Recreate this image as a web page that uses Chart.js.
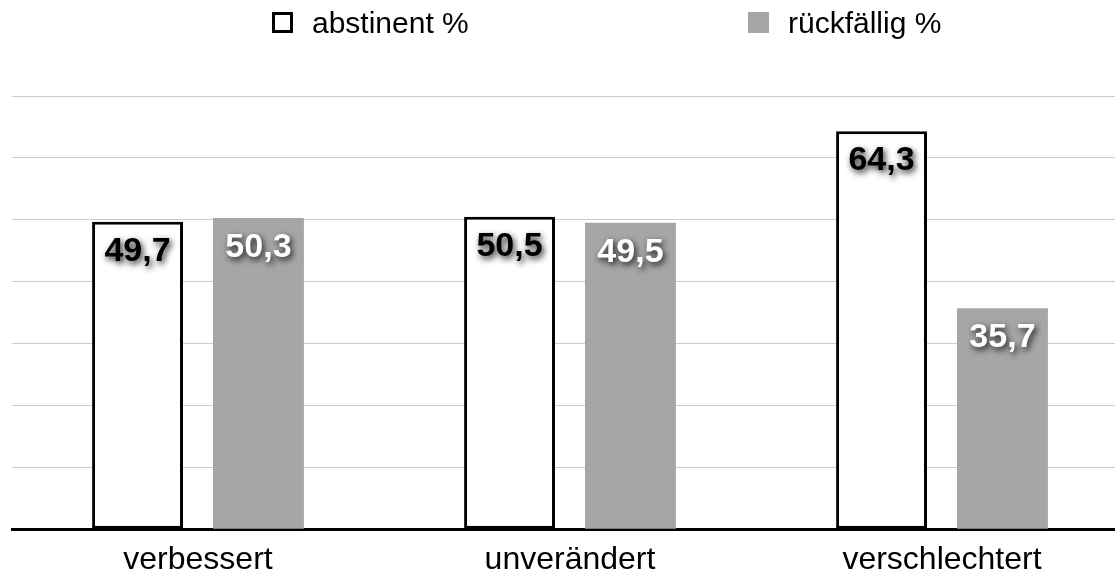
<!DOCTYPE html>
<html>
<head>
<meta charset="utf-8">
<script src="https://cdn.jsdelivr.net/npm/chart.js@4"></script>
<style>
	body { margin:0; background:#fff; overflow:hidden; font-family:"Liberation Sans", Arial, sans-serif; }
	.wrap { position:relative; width:1130px; height:592px; }
	.legend { position:absolute; top:0; left:0; width:1115px; height:50px; }
	.ltext { position:absolute; top:5px; font-size:30px; line-height:36px; color:#000; white-space:nowrap; }
	.lbox { position:absolute; top:12px; width:21px; height:21px; box-sizing:border-box; }
</style>
</head>
<body>
<div class="wrap">
	<div class="legend"></div>
	<canvas id="myChart"></canvas>
</div>
<script>
// 데이터
const categories = ['verbessert', 'unverändert', 'verschlechtert'];
const abstinent = [49.7, 50.5, 64.3];
const rueckfaellig = [50.3, 49.5, 35.7];
const seriesNames = ['abstinent %', 'rückfällig %'];
const yTicks = [0, 10, 20, 30, 40, 50, 60, 70];

const ctx = document.getElementById('myChart');

// 막대 위 값 표시
const valueLabels = {
	id : 'valueLabels',
	afterDatasetsDraw(chart){
		const c = chart.ctx;
		chart.data.datasets.forEach((ds, i)=>{
			const meta = chart.getDatasetMeta(i);
			meta.data.forEach((bar, j)=>{
				const txt = ds.data[j].toFixed(1).replace('.', ',');
				c.save();
				c.font = 'bold 34px "Liberation Sans", Arial, sans-serif';
				c.textAlign = 'center';
				c.textBaseline = 'alphabetic';
				c.shadowColor = 'rgba(0,0,0,0.85)';
				c.shadowBlur = 6;
				c.shadowOffsetX = 2;
				c.shadowOffsetY = 3;
				c.fillStyle = i == 0 ? '#000' : '#fff';
				c.fillText(txt, bar.x, bar.y + 39);
				c.restore();
			})
		})
	}
};

const chart = new Chart(ctx, {
	type : 'bar',
	data : {
		labels : categories,
		datasets : [
			{
				label : seriesNames[0],
				data : abstinent,
				backgroundColor : '#ffffff',
				borderColor : '#000000',
				borderWidth : 3,
				borderSkipped : false
			},
			{
				label : seriesNames[1],
				data : rueckfaellig,
				backgroundColor : '#a6a6a6',
				borderWidth : 0
			}
		]
	},
	options : {
		responsive : true,
		maintainAspectRatio : false,
		animation : false,
		categoryPercentage : 0.65,
		barPercentage : 0.752,
		layout : { padding : { top : 96, left : 12, right : 2, bottom : 0 } },
		plugins : { legend : { display : false }, tooltip : { enabled : false } },
		scales : {
			x : {
				grid : { display : false, drawTicks : false },
				border : { display : true, color : '#000', width : 3 },
				ticks : { color : '#000', padding : 17, font : { size : 32, lineHeight : 0.9, family : '"Liberation Sans", Arial, sans-serif' } }
			},
			y : {
				min : yTicks[0],
				max : yTicks[yTicks.length - 1],
				afterBuildTicks : (axis)=>{ axis.ticks = yTicks.map(v=>({ value : v })) },
				ticks : { display : false },
				border : { display : false },
				grid : { color : '#cccccc', lineWidth : 1, drawTicks : false }
			}
		}
	},
	plugins : [valueLabels]
});

// 범례 (HTML)
const legendBoxX = [272, 748];
const legendTextX = [312, 788];
let html = '';
chart.data.datasets.forEach((ds, i)=>{
	const box = i == 0 ? 'background:#fff;border:3.5px solid #000;' : 'background:' + ds.backgroundColor + ';';
	html += `<span class="lbox" style="left:${legendBoxX[i]}px;${box}"></span>`;
	html += `<span class="ltext" style="left:${legendTextX[i]}px">${ds.label}</span>`;
});
document.querySelector('.legend').innerHTML = html;
</script>
</body>
</html>
